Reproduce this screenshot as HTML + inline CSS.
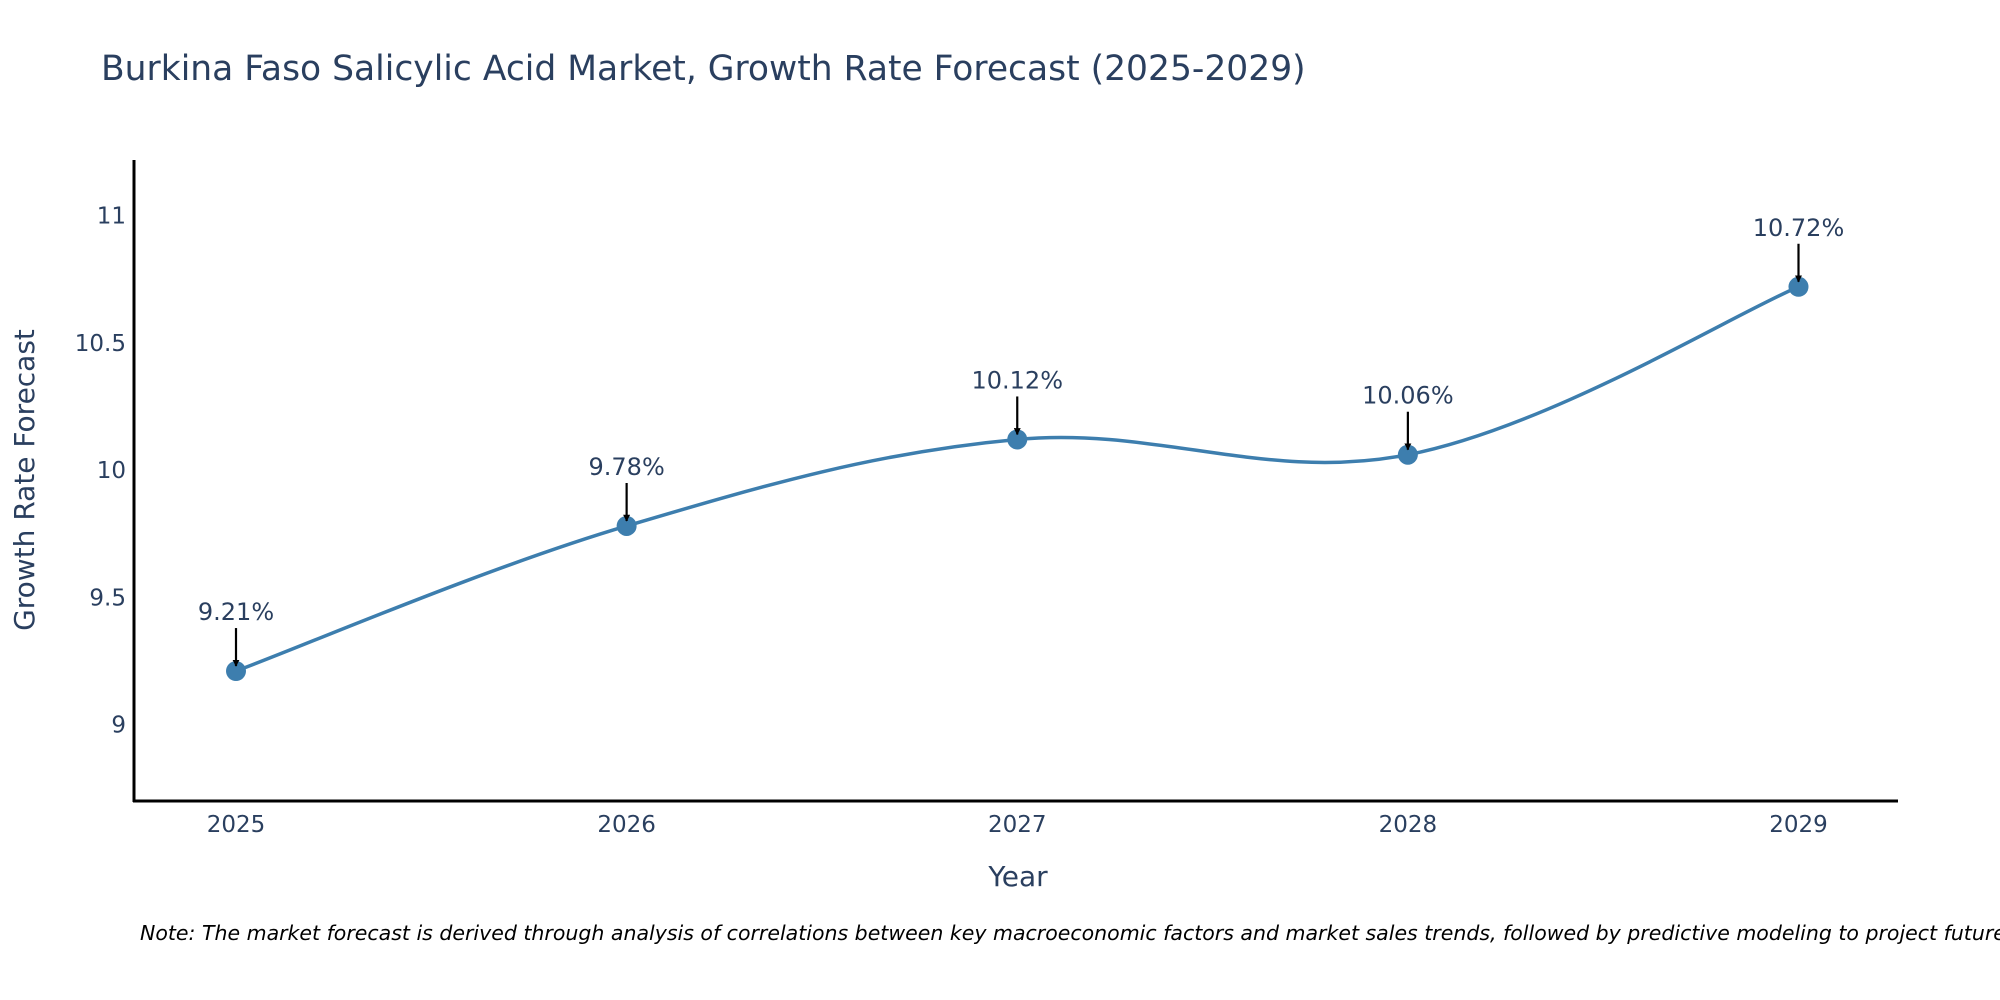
<!DOCTYPE html>
<html><head><meta charset="utf-8">
<style>
html,body{margin:0;padding:0;background:#fff;}
svg{display:block;font-family:"DejaVu Sans","Liberation Sans",sans-serif;}
</style></head>
<body>
<svg id="chart" width="2000" height="1000" viewBox="0 0 2000 1000" xmlns="http://www.w3.org/2000/svg">
<defs>
<marker id="ah" viewBox="0 0 10 10" refX="9" refY="5" markerWidth="7" markerHeight="7" markerUnits="userSpaceOnUse" orient="auto"><path d="M0,0 L10,5 L0,10 z" fill="#000"/></marker>
</defs>
<text x="101" y="80" font-size="34.5" fill="#2a3f5f">Burkina Faso Salicylic Acid Market, Growth Rate Forecast (2025-2029)</text>
<g id="yticks"></g>
<g id="xticks"></g>
<path id="line" fill="none" stroke="#3d7eae" stroke-width="3.5"/>
<g id="pts"></g>
<g id="ann"></g>
<line x1="134" y1="160" x2="134" y2="802" stroke="#000" stroke-width="3"/>
<line x1="133" y1="801" x2="1898" y2="801" stroke="#000" stroke-width="3"/>
<text transform="translate(34,480) rotate(-90)" text-anchor="middle" font-size="28" fill="#2a3f5f">Growth Rate Forecast</text>
<text x="1018" y="886" text-anchor="middle" font-size="28" fill="#2a3f5f">Year</text>
<text x="140" y="940" font-size="20.5" font-style="italic" fill="#000">Note: The market forecast is derived through analysis of correlations between key macroeconomic factors and market sales trends, followed by predictive modeling to project future sales.</text>
</svg>
<script>
const years = [2025, 2026, 2027, 2028, 2029];
const values = [9.21, 9.78, 10.12, 10.06, 10.72];
const labels = ["9.21%", "9.78%", "10.12%", "10.06%", "10.72%"];
const yTicks = [9, 9.5, 10, 10.5, 11];
const yTickLabels = ["9", "9.5", "10", "10.5", "11"];

const NS = "http://www.w3.org/2000/svg";
function xs(v){ return 236 + (v - 2025) * (1798.5 - 236) / 4; }
function ys(v){ return 724.5 - (v - 9) * 254.5; }
function mk(tag, attrs, parent){ const e = document.createElementNS(NS, tag); for (const k in attrs) e.setAttribute(k, attrs[k]); parent.appendChild(e); return e; }

const yg = document.getElementById('yticks');
yTicks.forEach((t, i) => {
  const e = mk('text', {x: 126, y: ys(t) + 8, 'text-anchor': 'end', 'font-size': 23, fill: '#2a3f5f'}, yg);
  
  
  e.textContent = yTickLabels[i];
});
const xg = document.getElementById('xticks');
years.forEach(y => {
  const e = mk('text', {x: xs(y), y: 832, 'text-anchor': 'middle', 'font-size': 23, fill: '#2a3f5f'}, xg);
  
  
  e.textContent = String(y);
});

const P = years.map((y, i) => [xs(y), ys(values[i])]);
let d = 'M' + P[0][0] + ',' + P[0][1];
const s = 0.18;
for (let i = 0; i < P.length - 1; i++) {
  const p0 = P[i - 1] || P[i], p1 = P[i], p2 = P[i + 1], p3 = P[i + 2] || P[i + 1];
  const c1 = [p1[0] + (p2[0] - p0[0]) * s, p1[1] + (p2[1] - p0[1]) * s];
  const c2 = [p2[0] - (p3[0] - p1[0]) * s, p2[1] - (p3[1] - p1[1]) * s];
  d += ' C' + c1 + ' ' + c2 + ' ' + p2;
}
document.getElementById('line').setAttribute('d', d);

const pg = document.getElementById('pts'), ag = document.getElementById('ann');
P.forEach((p, i) => {
  const c = mk('circle', {cx: p[0], cy: p[1], r: 10, fill: '#3d7eae'}, pg);
  
  
  const a = mk('line', {x1: p[0], y1: p[1] - 43, x2: p[0], y2: p[1] - 5, stroke: '#000', 'stroke-width': 2.2, 'marker-end': 'url(#ah)'}, ag);
  
  
  const t = mk('text', {x: p[0], y: p[1] - 51, 'text-anchor': 'middle', 'font-size': 24, fill: '#2a3f5f'}, ag);
  
  
  t.textContent = labels[i];
});
</script>
</body></html>
